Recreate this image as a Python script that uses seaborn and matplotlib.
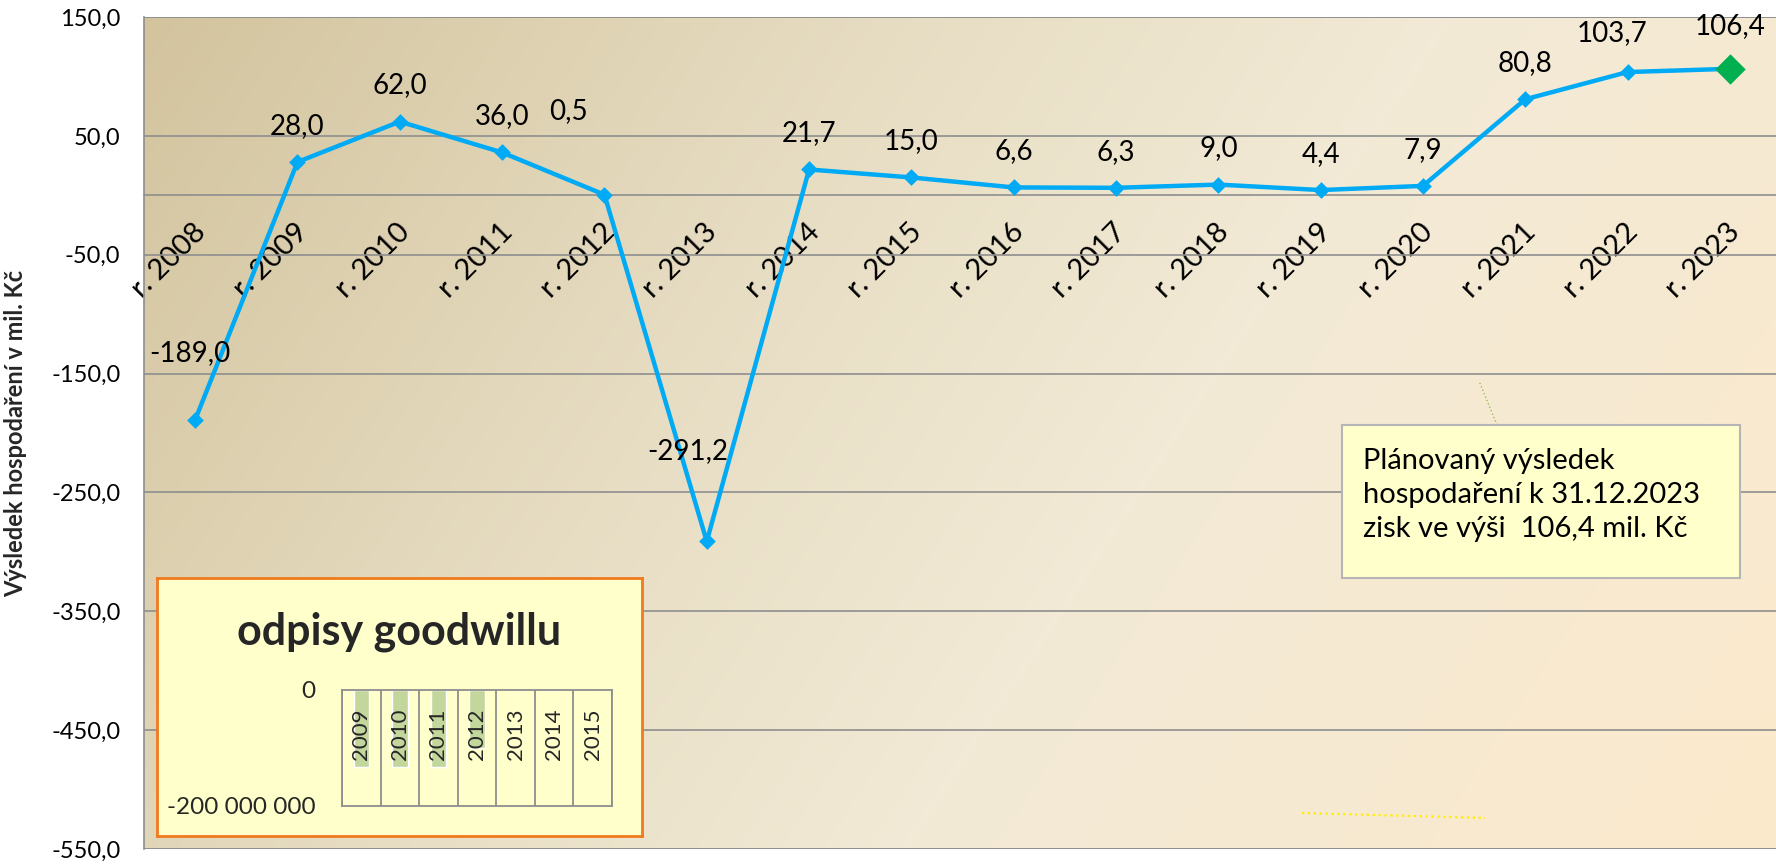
import numpy as np
import pandas as pd
import matplotlib.pyplot as plt
import seaborn as sns
from matplotlib.colors import LinearSegmentedColormap
from matplotlib.patches import Rectangle
from matplotlib.lines import Line2D
from matplotlib.ticker import FuncFormatter, FixedLocator
import matplotlib.transforms as mtransforms

# hospodarsky vysledek v mil. Kc
roky = ["r. 2008", "r. 2009", "r. 2010", "r. 2011", "r. 2012", "r. 2013", "r. 2014", "r. 2015",
        "r. 2016", "r. 2017", "r. 2018", "r. 2019", "r. 2020", "r. 2021", "r. 2022", "r. 2023"]
vysledek = [-189.0, 28.0, 62.0, 36.0, 0.5, -291.2, 21.7, 15.0,
            6.6, 6.3, 9.0, 4.4, 7.9, 80.8, 103.7, 106.4]
y_ticks = [150, 50, -50, -150, -250, -350, -450, -550]

# odpisy goodwillu (Kc)
gw_roky = ["2009", "2010", "2011", "2012", "2013", "2014", "2015"]
gw_odpisy = [-132e6, -132e6, -132e6, -100e6, 0, 0, 0]

popis = "Plánovaný výsledek\nhospodaření k 31.12.2023\nzisk ve výši  106,4 mil. Kč"

# posun popisku hodnot (body) - jen rozvrzeni
label_offsets = {0: (-4, 48), 4: (-26, 60), 5: (-14, 65), 14: (-11, 28), 15: (0, 31)}

W, H = 1776, 865
LINE = "#00AAF5"
GRID = "#8E8E8E"

sns.set_theme(style="white")
plt.rcParams["font.family"] = ["Lato", "DejaVu Sans"]


def fx(px):
    return px / W


def fy(py):
    return 1 - py / H


fig = plt.figure(figsize=(W / 100, H / 100), dpi=100)
fig.patch.set_facecolor("white")

ax_rect = [fx(144), fy(849), fx(W - 144), (849 - 17) / H]

# pozadi - prechod
bg = fig.add_axes(ax_rect, zorder=0)
cmap = LinearSegmentedColormap.from_list(
    "parch", [(0, "#D3C49E"), (0.35, "#E7DDC3"), (0.6, "#F2EAD6"), (1.0, "#FCE9CC")])
gx, gy = np.meshgrid(np.linspace(0, 1, 400), np.linspace(0, 1, 200))
bg.imshow(0.75 * gx + 0.25 * gy, cmap=cmap, aspect="auto", extent=[0, 1, 0, 1],
          vmin=0, vmax=1)
bg.axis("off")

ax = fig.add_axes(ax_rect, zorder=1)
ax.set_facecolor("none")

df = pd.DataFrame({"rok": roky, "vysledek": vysledek})
sns.pointplot(data=df, x="rok", y="vysledek", color=LINE, markers="D", markersize=6,
              linewidth=3.2, errorbar=None, ax=ax, zorder=3)
ax.scatter(roky[-1:], vysledek[-1:], marker="D", s=240, color="#00B050", zorder=5,
           linewidths=0)

ax.set_ylim(-550, 150)
ax.set_xlim(-0.5, 15.45)
ax.yaxis.set_major_locator(FixedLocator(y_ticks))
ax.yaxis.set_major_formatter(FuncFormatter(lambda v, p: f"{v:.1f}".replace(".", ",")))
ax.grid(axis="y", color=GRID, lw=1.2)
ax.set_axisbelow(True)
ax.tick_params(axis="y", length=0, pad=17, labelsize=17, colors="black")
ax.tick_params(axis="x", length=0, pad=17, labelsize=21, colors="black")

for s in ["top", "right"]:
    ax.spines[s].set_visible(False)
ax.spines["left"].set_color(GRID)
ax.spines["left"].set_linewidth(1.2)
ax.spines["bottom"].set_position(("data", 0))
ax.spines["bottom"].set_color(GRID)
ax.spines["bottom"].set_linewidth(1.2)
ax.axhline(-550, color=GRID, lw=2, zorder=2)
ax.axhline(150, color=GRID, lw=1.2, zorder=2)

shift = mtransforms.ScaledTranslation(-3 / 100, 0, fig.dpi_scale_trans)
for lab in ax.get_xticklabels():
    lab.set_rotation(45)
    lab.set_ha("right")
    lab.set_va("top")
    lab.set_rotation_mode("anchor")
    lab.set_transform(lab.get_transform() + shift)

ax.set_xlabel("")
ax.set_ylabel("Výsledek hospodaření v mil. Kč", fontsize=17, fontweight="bold")
ax.yaxis.set_label_coords(-(144 - 27) / (W - 144), 0.5)

for i, v in enumerate(vysledek):
    dx, dy = label_offsets.get(i, (0, 26))
    ax.annotate(f"{v:.1f}".replace(".", ","), (roky[i], v), xytext=(dx, dy),
                textcoords="offset points", ha="center", va="center", fontsize=20,
                color="black", zorder=6)

# popisek vpravo
fig.add_artist(Line2D([fx(1497), fx(1479)], [fy(425), fy(381)], color="#9BBB59", lw=1,
                      ls=":", zorder=3))
fig.add_artist(Rectangle((fx(1342), fy(578)), fx(1740 - 1342), (578 - 425) / H,
                         facecolor="#FFFFCC", edgecolor="#B5B5B5", lw=1.5, zorder=4,
                         transform=fig.transFigure))
fig.text(fx(1363), fy(495), popis, ha="left", va="center", fontsize=21, linespacing=1.37,
         color="black", zorder=5)
fig.add_artist(Line2D([fx(1302), fx(1485)], [fy(813), fy(818)], color="#FFEE00", lw=1.6,
                      ls=":", zorder=3))

# vlozeny graf - odpisy goodwillu
box = fig.add_axes([fx(157), fy(836), fx(642 - 157), (836 - 578) / H], zorder=4)
box.set_facecolor("#FFFFCC")
box.set_xticks([])
box.set_yticks([])
for s in box.spines.values():
    s.set_color("#F07A1E")
    s.set_linewidth(2)
box.text(0.5, 1 - (632 - 578) / (836 - 578), "odpisy goodwillu", ha="center", va="center",
         fontsize=31, fontweight="bold", transform=box.transAxes)

ins = fig.add_axes([fx(342), fy(806), fx(612 - 342), (806 - 690) / H], zorder=5)
ins.set_facecolor("#FFFFCC")
gw = pd.DataFrame({"rok": gw_roky, "odpis": gw_odpisy})
sns.barplot(data=gw, x="rok", y="odpis", color="#C3D69B", width=0.4, saturation=1,
            ax=ins, zorder=1)
ins.set_ylim(-200e6, 0)
ins.set_xlim(-0.5, len(gw_roky) - 0.5)
ins.set_yticks([0, -200e6])
ins.yaxis.set_major_formatter(FuncFormatter(lambda v, p: f"{v:,.0f}".replace(",", " ")))
ins.tick_params(axis="y", length=6, width=1.3, color=GRID, pad=13, labelsize=17.5)
ins.set_xticks(np.arange(len(gw_roky) + 1) - 0.5, minor=True)
ins.set_xticks([])
ins.grid(axis="x", which="minor", color=GRID, lw=1.3)
ins.tick_params(axis="x", which="both", length=0)
for s in ins.spines.values():
    s.set_color(GRID)
    s.set_linewidth(1.3)
ins.set_xlabel("")
ins.set_ylabel("")
for r in gw_roky:
    ins.annotate(r, (r, 0), xytext=(0, -13), textcoords="offset points", rotation=90,
                 ha="center", va="top", fontsize=16, zorder=3)

fig.savefig("out.png", dpi=100)
